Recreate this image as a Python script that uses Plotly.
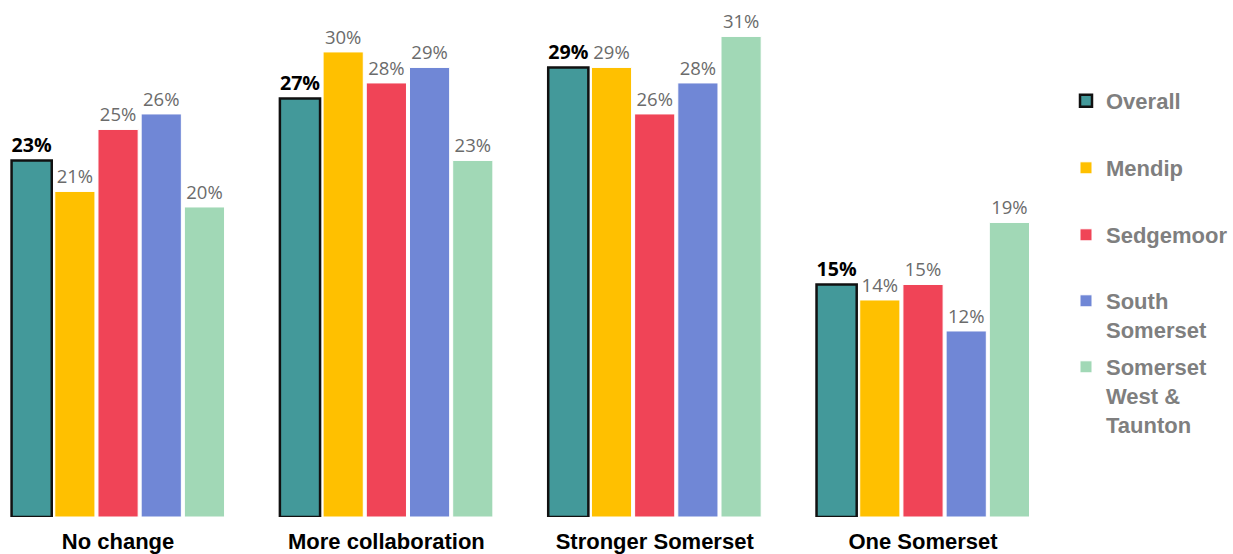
import plotly.graph_objects as go

# Survey options and share of responses (%) by area
categories = ["No change", "More collaboration", "Stronger Somerset", "One Somerset"]
series_names = ["Overall", "Mendip", "Sedgemoor", "South<br>Somerset", "Somerset<br>West &<br>Taunton"]
overall = [23, 27, 29, 15]
mendip = [21, 30, 29, 14]
sedgemoor = [25, 28, 26, 15]
south_somerset = [26, 29, 28, 12]
swt = [20, 23, 31, 19]

values = [overall, mendip, sedgemoor, south_somerset, swt]
colors = ["#43999A", "#FFC000", "#F04457", "#7087D6", "#A1D8B6"]

# Each legend entry sits in its own evenly spaced slot (pixel centre of first line)
PLOT_H = 517
slot_centres = [101, 168, 235, 301, 367]
legend_ids = ["legend", "legend2", "legend3", "legend4", "legend5"]

fig = go.Figure()
for i, (name, vals, col) in enumerate(zip(series_names, values, colors)):
    is_overall = i == 0
    fig.add_trace(go.Bar(
        name=f"<b>{name}</b>",
        x=categories,
        y=vals,
        legend=legend_ids[i],
        marker=dict(
            color=col,
            line=dict(color="#111111" if is_overall else "#FFFFFF", width=2.5 if is_overall else 1),
        ),
        text=[f"<b>{v}%</b>" if is_overall else f"{v}%" for v in vals],
        textposition="outside",
        cliponaxis=False,
        textfont=dict(
            family="Open Sans, Arial, sans-serif",
            size=20 if is_overall else 18.5,
            color="#000000" if is_overall else "#6B6B6B",
        ),
    ))

legend_style = dict(
    x=1.025,
    xanchor="left",
    yanchor="top",
    font=dict(family="Liberation Sans, Arial, sans-serif", size=22, color="#7F7F7F"),
    itemwidth=30,
    valign="top",
    bgcolor="rgba(0,0,0,0)",
)
legend_layouts = {
    lid: dict(legend_style, y=1 - (c - 21) / PLOT_H)
    for lid, c in zip(legend_ids, slot_centres)
}

fig.update_layout(
    width=1233,
    height=554,
    barmode="group",
    bargap=0.195,
    bargroupgap=0.07,
    plot_bgcolor="white",
    paper_bgcolor="white",
    margin=dict(l=0, r=193, t=0, b=37),
    xaxis=dict(
        range=[-0.44, 3.436],
        showgrid=False,
        showline=False,
        ticks="",
        tickfont=dict(family="Liberation Sans, Arial, sans-serif", size=22, color="#000000"),
        tickprefix="<b>",
        ticksuffix="</b>",
        ticklabelstandoff=9,
        automargin=False,
    ),
    yaxis=dict(
        range=[0, 33.35],
        visible=False,
        showgrid=False,
        zeroline=False,
    ),
    showlegend=True,
    **legend_layouts,
)

fig.write_html("out.html")
